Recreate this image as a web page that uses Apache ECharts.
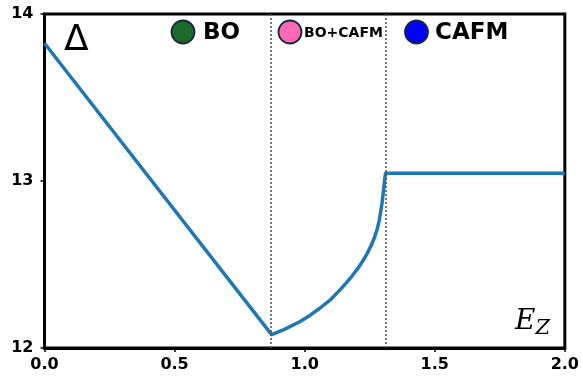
<!DOCTYPE html>
<html><head><meta charset="utf-8">
<script src="https://cdn.jsdelivr.net/npm/echarts@6/dist/echarts.min.js"></script>
<style>html,body{margin:0;padding:0;background:#fff}#c{width:582px;height:377px}</style>
</head><body><div id="c"></div>
<script>
const xValues = [0.0, 0.873, 0.92, 0.981, 1.02, 1.058, 1.10, 1.134, 1.16, 1.185, 1.205, 1.224, 1.241, 1.256, 1.268, 1.278, 1.286, 1.292, 1.297, 1.301, 1.305, 1.308, 1.311, 2.0];
const deltaValues = [13.825, 12.08, 12.11, 12.157, 12.195, 12.238, 12.29, 12.345, 12.39, 12.437, 12.478, 12.522, 12.568, 12.615, 12.66, 12.708, 12.76, 12.815, 12.865, 12.915, 12.97, 13.015, 13.046, 13.046];
const phaseBoundaries = [0.873, 1.311];
const xTicks = [0.0, 0.5, 1.0, 1.5, 2.0];
const yTicks = [12, 13, 14];
const legendNames = ['BO', 'BO+CAFM', 'CAFM'];
const legendColors = ['#1b6b2b', '#ff69b4', '#0000ff'];

const chart = echarts.init(document.getElementById('c'), null, {renderer: 'canvas'});
const data = xValues.map((x, i) => [x, deltaValues[i]]);
const tickFont = {fontFamily: 'DejaVu Sans', fontWeight: 'bold', fontSize: 16, color: '#000'};

const legendX = [183, 290, 416.5];
const legendTextX = [203, 304, 435];
const legendFont = [23, 14, 23];
const graphics = [];
legendNames.forEach((n, i) => {
  graphics.push({type: 'circle', shape: {cx: legendX[i], cy: 32, r: 11.5},
    style: {fill: legendColors[i], stroke: '#13263a', lineWidth: 1.8}, z: 100});
  graphics.push({type: 'text', x: legendTextX[i], y: 33,
    style: {text: n, fontFamily: 'DejaVu Sans', fontWeight: 'bold', fontSize: legendFont[i], fill: '#000', verticalAlign: 'middle'}, z: 100});
});
graphics.push({type: 'text', x: 64, y: 41, style: {text: 'Δ', fontFamily: 'DejaVu Sans', fontSize: 36, fill: '#000', verticalAlign: 'middle'}, z: 100});
graphics.push({type: 'text', x: 515, y: 322, style: {
  text: '{e|E}{z|Z}', verticalAlign: 'middle',
  rich: {e: {fontFamily: 'DejaVu Serif', fontStyle: 'italic', fontSize: 28, fill: '#000'},
         z: {fontFamily: 'DejaVu Serif', fontStyle: 'italic', fontSize: 21, fill: '#000', padding: [14, 0, 0, 0]}}}, z: 100});

chart.setOption({
  animation: false,
  grid: {left: 44.5, right: 17, top: 14, bottom: 29, show: true, borderColor: '#000', borderWidth: 3, backgroundColor: 'transparent'},
  xAxis: {type: 'value', min: 0, max: 2, interval: 0.5,
    axisLine: {show: true, lineStyle: {color: '#000', width: 3}},
    axisTick: {show: true, length: 4, lineStyle: {color: '#000', width: 1.5}},
    splitLine: {show: false},
    axisLabel: Object.assign({margin: 9, formatter: v => xTicks.includes(v) ? v.toFixed(1) : ''}, tickFont)},
  yAxis: {type: 'value', min: 12, max: 14, interval: 1,
    axisLine: {show: true, lineStyle: {color: '#000', width: 3}},
    axisTick: {show: true, length: 4, lineStyle: {color: '#000', width: 1.5}},
    splitLine: {show: false},
    axisLabel: Object.assign({margin: 11, formatter: v => yTicks.includes(v) ? String(v) : ''}, tickFont)},
  series: [{
    type: 'line', data: data, showSymbol: false, symbol: 'none',
    lineStyle: {color: '#1f77b4', width: 3.5, join: 'round'},
    markLine: {silent: true, symbol: 'none', label: {show: false},
      lineStyle: {color: '#555', type: [2, 2], width: 1.6},
      data: phaseBoundaries.map(b => ({xAxis: b}))}
  }],
  graphic: graphics
});
</script></body></html>
